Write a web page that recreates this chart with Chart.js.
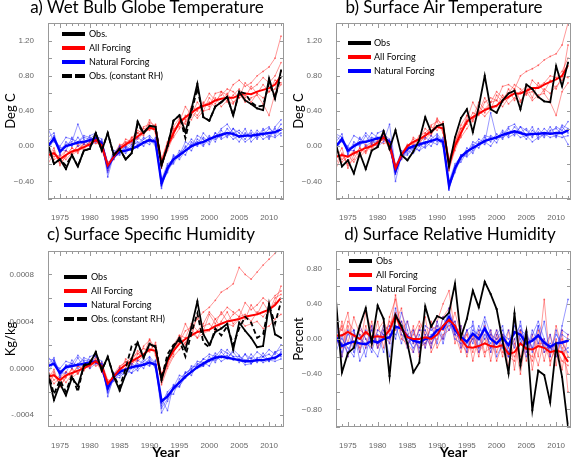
<!DOCTYPE html>
<html lang="en">
<head>
<meta charset="UTF-8">
<title>Obs vs model forcing</title>
<script src="https://cdn.jsdelivr.net/npm/chart.js"></script>
<style>
  body { margin: 0; background: #fff; width: 576px; height: 458px; overflow: hidden; position: relative; font-family: Lato, sans-serif; }
  canvas { position: absolute; }
  .ttl { position: absolute; font: 17px/17px Lato, sans-serif; color: #000; text-align: center; white-space: nowrap; z-index: 2; }
</style>
</head>
<body>
<canvas id="chartA" width="288" height="228" style="left:0;top:0"></canvas>
<canvas id="chartB" width="288" height="228" style="left:288px;top:0"></canvas>
<canvas id="chartC" width="288" height="230" style="left:0;top:228px"></canvas>
<canvas id="chartD" width="288" height="230" style="left:288px;top:228px"></canvas>
<div class="ttl" style="left:0;top:-2px;width:294px">a) Wet Bulb Globe Temperature</div>
<div class="ttl" style="left:300px;top:-2px;width:288px">b) Surface Air Temperature</div>
<div class="ttl" style="left:0;top:225px;width:302px">c) Surface Specific Humidity</div>
<div class="ttl" style="left:306px;top:225px;width:288px">d) Surface Relative Humidity</div>

<script>
// years on the x axis
var years = [1973,1974,1975,1976,1977,1978,1979,1980,1981,1982,1983,1984,1985,1986,1987,1988,1989,1990,1991,1992,
             1993,1994,1995,1996,1997,1998,1999,2000,2001,2002,2003,2004,2005,2006,2007,2008,2009,2010,2011,2012];
var xTickYears = [1975, 1980, 1985, 1990, 1995, 2000, 2005, 2010];

// a) wet bulb globe temperature (deg C)
var aObs   = [0.02,-0.2,-0.15,-0.26,-0.1,-0.23,-0.05,-0.03,0.15,-0.05,0.15,-0.1,-0.03,-0.15,-0.08,0.28,0.15,0.23,0.22,-0.22,0.0,0.29,0.35,0.16,0.42,0.71,0.33,0.29,0.45,0.5,0.56,0.35,0.62,0.52,0.48,0.43,0.41,0.77,0.54,0.86];
var aObsRH = [0.02,-0.2,-0.15,-0.22,-0.1,-0.23,-0.05,-0.03,0.15,-0.05,0.15,-0.1,-0.03,-0.15,-0.08,0.25,0.15,0.23,0.22,-0.22,0.0,0.29,0.35,0.09,0.38,0.66,0.33,0.29,0.45,0.5,0.56,0.35,0.62,0.6,0.5,0.45,0.46,0.72,0.55,0.8];
var aAll   = [-0.1,-0.08,-0.15,-0.1,-0.06,-0.04,-0.01,0.02,0.07,0.01,-0.22,-0.12,-0.03,0.02,0.06,0.11,0.16,0.21,0.19,-0.2,0.0,0.15,0.27,0.33,0.38,0.43,0.46,0.48,0.52,0.54,0.55,0.55,0.58,0.6,0.59,0.62,0.64,0.66,0.7,0.8];
var aNat   = [0.0,0.09,-0.06,0.0,0.02,0.04,0.05,0.07,0.09,0.03,-0.23,-0.12,-0.06,-0.05,-0.03,0.0,0.04,0.07,0.05,-0.42,-0.25,-0.15,-0.1,-0.05,0.0,0.03,0.05,0.08,0.11,0.13,0.15,0.14,0.11,0.12,0.12,0.13,0.14,0.15,0.16,0.19];
var aAllRuns = [
  [-0.15,-0.05,-0.2,-0.12,-0.02,-0.08,0.03,0.0,0.1,-0.02,-0.25,-0.1,0.02,0.0,0.1,0.15,0.12,0.27,0.23,-0.15,0.05,0.2,0.22,0.35,0.3,0.42,0.5,0.45,0.6,0.62,0.58,0.7,0.75,0.68,0.72,0.8,0.85,0.9,1.0,1.25],
  [-0.05,-0.12,-0.1,-0.15,-0.08,0.0,-0.05,0.06,0.05,0.05,-0.2,-0.15,0.0,0.05,0.02,0.15,0.2,0.18,0.25,-0.22,-0.05,0.12,0.3,0.25,0.4,0.35,0.45,0.5,0.45,0.5,0.6,0.5,0.55,0.58,0.5,0.6,0.55,0.62,0.65,0.85],
  [-0.2,-0.08,-0.18,-0.05,-0.1,-0.05,0.02,0.0,0.12,0.0,-0.28,-0.08,-0.05,0.08,0.05,0.1,0.22,0.25,0.15,-0.18,0.02,0.18,0.28,0.45,0.35,0.5,0.4,0.55,0.48,0.62,0.5,0.58,0.65,0.55,0.68,0.6,0.7,0.62,0.75,0.72],
  [-0.08,-0.15,-0.12,-0.05,-0.1,0.02,-0.02,0.05,0.03,0.04,-0.18,-0.14,-0.02,0.0,0.1,0.08,0.15,0.3,0.2,-0.25,0.0,0.1,0.2,0.28,0.38,0.32,0.4,0.42,0.55,0.45,0.52,0.48,0.6,0.5,0.55,0.58,0.48,0.35,0.6,0.7],
  [-0.12,-0.02,-0.22,-0.1,-0.02,-0.06,0.05,0.02,0.08,-0.04,-0.24,-0.12,0.0,0.04,0.08,0.18,0.14,0.2,0.24,-0.16,0.04,0.22,0.32,0.3,0.45,0.4,0.48,0.6,0.52,0.58,0.65,0.62,0.55,0.72,0.65,0.7,0.78,0.72,0.8,0.95]
];
var aNatRuns = [
  [0.2,0.05,0.0,0.1,0.08,0.05,0.12,0.1,0.08,0.06,-0.3,-0.08,0.0,-0.02,0.05,0.02,0.1,0.05,0.08,-0.45,-0.28,-0.18,-0.05,-0.1,0.05,0.0,0.1,0.05,0.15,0.1,0.2,0.12,0.05,0.15,0.1,0.18,0.12,0.2,0.15,0.25],
  [0.05,0.12,-0.1,0.05,0.0,0.1,0.02,0.12,0.15,0.0,-0.22,-0.15,-0.05,-0.08,0.0,0.05,0.0,0.1,0.02,-0.38,-0.2,-0.15,-0.12,0.0,-0.05,0.08,0.02,0.12,0.05,0.18,0.1,0.2,0.15,0.08,0.18,0.1,0.2,0.1,0.22,0.3],
  [-0.05,0.08,-0.05,-0.05,0.1,0.0,0.05,0.05,0.12,0.08,-0.35,-0.1,-0.1,-0.02,-0.05,0.0,0.08,0.12,0.05,-0.42,-0.3,-0.1,-0.15,-0.05,0.02,0.05,0.0,0.1,0.08,0.12,0.15,0.08,0.12,0.05,0.1,0.15,0.08,0.12,0.1,0.15],
  [0.1,0.15,-0.08,0.02,0.05,0.25,0.08,0.0,0.05,0.05,-0.25,-0.05,-0.08,0.0,-0.05,0.1,0.05,0.02,0.1,-0.48,-0.22,-0.2,-0.08,-0.02,0.08,0.02,0.15,0.08,0.1,0.2,0.25,0.15,0.18,0.12,0.15,0.08,0.18,0.22,0.12,0.2],
  [0.0,0.1,-0.02,0.0,0.02,0.05,0.1,0.08,0.15,0.02,-0.28,-0.12,0.0,-0.05,0.02,-0.02,0.05,0.08,0.0,-0.4,-0.25,-0.12,-0.1,0.05,0.0,0.12,0.08,0.02,0.15,0.08,0.12,0.2,0.1,0.2,0.05,0.12,0.15,0.08,0.2,0.12]
];

// b) surface air temperature (deg C)
var bObs = [0.02,-0.23,-0.16,-0.31,-0.08,-0.26,-0.05,-0.01,0.17,-0.03,0.18,-0.1,-0.16,-0.06,0.07,0.33,0.16,0.23,0.25,-0.23,0.1,0.32,0.42,0.16,0.45,0.8,0.42,0.38,0.52,0.6,0.63,0.42,0.7,0.65,0.56,0.51,0.5,0.91,0.68,0.95];
var bAll = [-0.12,-0.1,-0.12,-0.08,-0.05,-0.02,0.0,0.04,0.1,0.02,-0.25,-0.1,0.0,0.05,0.08,0.12,0.17,0.22,0.2,-0.2,0.0,0.15,0.28,0.33,0.37,0.41,0.44,0.46,0.52,0.56,0.6,0.6,0.63,0.66,0.66,0.7,0.73,0.76,0.8,0.92];
var bNat = [0.0,0.08,-0.05,0.0,0.04,0.05,0.07,0.09,0.1,0.05,-0.28,-0.1,-0.03,0.0,0.02,0.04,0.06,0.08,0.05,-0.45,-0.25,-0.12,-0.06,-0.02,0.02,0.06,0.08,0.1,0.13,0.15,0.17,0.15,0.13,0.14,0.14,0.15,0.14,0.15,0.15,0.18];
var bAllRuns = [
  [-0.25,-0.1,-0.22,-0.15,-0.02,-0.08,0.03,0.0,0.12,-0.02,-0.28,-0.08,0.02,0.02,0.12,0.15,0.12,0.3,0.24,-0.15,0.05,0.2,0.25,0.38,0.35,0.5,0.55,0.52,0.68,0.7,0.65,0.8,0.85,0.88,0.92,0.98,1.02,1.05,1.15,1.4],
  [-0.05,-0.15,-0.1,-0.18,-0.08,0.0,-0.05,0.08,0.06,0.06,-0.22,-0.15,0.0,0.08,0.02,0.15,0.22,0.18,0.28,-0.25,-0.05,0.12,0.35,0.28,0.45,0.38,0.5,0.52,0.45,0.55,0.65,0.52,0.6,0.62,0.55,0.65,0.6,0.68,0.75,1.15],
  [-0.2,-0.08,-0.2,-0.05,-0.12,-0.05,0.02,0.0,0.14,0.0,-0.3,-0.08,-0.05,0.1,0.05,0.1,0.24,0.28,0.15,-0.18,0.02,0.2,0.3,0.5,0.38,0.55,0.42,0.58,0.5,0.65,0.52,0.62,0.68,0.55,0.72,0.62,0.75,0.65,0.8,0.78],
  [-0.1,-0.18,-0.12,-0.05,-0.1,0.02,-0.02,0.06,0.03,0.05,-0.2,-0.14,-0.02,0.0,0.1,0.08,0.15,0.32,0.2,-0.28,0.0,0.1,0.2,0.3,0.4,0.34,0.42,0.45,0.58,0.48,0.55,0.5,0.62,0.52,0.58,0.6,0.5,0.35,0.62,0.72],
  [-0.14,-0.02,-0.25,-0.1,-0.02,-0.06,0.05,0.02,0.1,-0.04,-0.26,-0.12,0.0,0.04,0.08,0.2,0.14,0.22,0.26,-0.16,0.04,0.24,0.35,0.32,0.5,0.42,0.5,0.62,0.55,0.6,0.7,0.65,0.58,0.75,0.68,0.72,0.8,0.78,0.85,1.0]
];
var bNatRuns = [
  [0.12,0.05,0.0,0.12,0.08,0.05,0.15,0.1,0.08,0.05,-0.32,-0.08,0.0,-0.02,0.05,0.02,0.12,0.05,0.08,-0.48,-0.28,-0.15,-0.02,-0.08,0.05,0.02,0.12,0.08,0.18,0.12,0.22,0.15,0.08,0.18,0.12,0.2,0.14,0.22,0.18,0.28],
  [0.05,0.14,-0.1,0.05,0.0,0.12,0.02,0.15,0.18,0.0,-0.22,-0.15,-0.05,-0.08,0.0,0.05,0.0,0.12,0.02,-0.4,-0.2,-0.12,-0.1,0.02,-0.02,0.1,0.05,0.14,0.08,0.2,0.12,0.22,0.18,0.1,0.2,0.12,0.22,0.12,0.24,0.2],
  [-0.05,0.08,-0.05,-0.05,0.1,0.0,0.05,0.05,0.14,0.08,-0.4,-0.1,-0.1,-0.02,-0.05,0.0,0.08,0.14,0.05,-0.45,-0.3,-0.1,-0.12,-0.05,0.02,0.05,0.0,0.1,0.1,0.14,0.16,0.1,0.12,0.05,0.1,0.14,0.1,0.12,0.1,0.12],
  [0.14,0.1,-0.08,0.02,0.05,0.15,0.08,0.0,0.05,0.25,-0.25,-0.05,-0.08,0.0,-0.05,0.1,0.05,0.02,0.1,-0.5,-0.22,-0.18,-0.06,0.0,0.08,0.04,0.38,0.1,0.12,0.22,0.25,0.16,0.2,0.12,0.16,0.1,0.18,0.2,0.14,0.02],
  [0.0,0.1,-0.02,0.0,0.02,0.05,0.1,0.08,0.15,0.02,-0.3,-0.12,0.0,-0.05,0.02,-0.02,0.05,0.1,0.0,-0.42,-0.25,-0.1,-0.08,0.05,0.02,0.12,0.1,0.04,0.16,0.1,0.14,0.22,0.12,0.22,0.08,0.14,0.16,0.1,0.22,0.15]
];

// c) surface specific humidity, in units of 0.0001 kg/kg
var cObs   = [-0.5,-2.7,-1.3,-2.3,-0.8,-1.5,0.2,0.4,1.4,-0.2,1.0,-0.7,-1.9,-0.5,0.8,2.2,0.9,2.1,1.8,-1.0,0.8,1.8,2.6,1.6,3.5,5.7,2.9,2.0,3.1,3.4,3.8,1.6,3.9,3.2,2.6,1.8,1.9,5.5,2.9,2.6];
var cObsRH = [-0.3,-2.2,-1.0,-2.0,-0.6,-2.0,0.3,0.5,1.3,-0.1,0.9,-0.6,-1.6,0.0,1.9,2.1,1.0,2.0,1.9,-0.9,1.2,2.0,2.4,1.0,3.0,4.7,2.2,1.8,3.4,2.8,3.6,2.0,3.4,4.4,3.9,2.6,2.9,5.4,3.8,5.7];
var cAll   = [-0.7,-0.6,-1.0,-0.6,-0.4,-0.2,0.0,0.3,0.6,0.2,-1.3,-0.7,-0.1,0.3,0.6,0.9,1.2,1.6,1.5,-0.8,0.6,1.5,2.1,2.5,2.8,3.1,3.2,3.3,3.6,3.8,4.0,4.1,4.2,4.4,4.5,4.6,4.8,5.0,5.4,6.0];
var cNat   = [0.2,0.4,-0.4,0.1,0.2,0.3,0.4,0.5,0.6,0.2,-1.7,-0.7,-0.3,-0.1,0.1,0.2,0.3,0.5,0.3,-2.8,-2.4,-1.7,-1.2,-0.7,-0.3,0.1,0.4,0.7,0.9,1.0,0.9,0.8,0.7,0.6,0.6,0.7,0.7,0.8,0.9,1.2];
var cAllRuns = [
  [-1.2,-0.3,-1.5,-0.8,0.0,-0.5,0.3,0.2,0.8,-0.2,-1.5,-0.5,0.2,0.5,0.9,1.3,1.0,2.0,1.8,-0.5,0.8,1.8,2.3,3.2,3.5,4.2,4.8,5.2,5.8,6.5,6.8,7.2,8.6,8.0,7.6,8.2,8.8,9.3,9.8,10.3],
  [-0.2,-1.0,-0.6,-1.2,-0.5,0.2,-0.2,0.6,0.4,0.5,-1.0,-1.0,0.1,0.6,0.3,1.2,1.7,1.4,2.2,-1.2,0.2,1.2,2.8,2.0,3.4,2.6,3.6,3.8,3.2,4.0,4.8,3.8,4.4,4.6,4.0,4.8,4.4,5.0,5.6,7.0],
  [-1.4,-0.5,-1.3,-0.3,-0.8,-0.4,0.2,0.0,1.0,0.0,-1.6,-0.5,-0.4,0.8,0.4,0.7,1.9,2.4,1.1,-0.9,0.4,1.7,2.4,3.8,2.8,4.5,3.2,4.6,3.8,4.8,4.0,4.6,5.0,4.2,5.4,4.6,5.6,4.8,6.0,6.3],
  [-0.6,-1.3,-0.8,-0.3,-0.7,0.2,-0.1,0.5,0.2,0.4,-1.2,-0.9,-0.1,0.0,0.8,0.6,1.1,2.5,1.6,-1.4,0.0,1.0,1.6,2.2,3.0,2.6,3.0,3.2,4.2,3.4,3.8,3.6,4.2,3.6,3.8,4.0,3.4,3.6,4.2,4.6],
  [-0.9,-0.1,-1.6,-0.7,-0.1,-0.4,0.4,0.1,0.6,-0.3,-1.4,-0.8,0.0,0.3,0.6,1.5,1.1,1.6,2.0,-0.7,0.5,2.0,2.8,2.6,3.8,3.2,3.8,4.8,4.2,4.6,5.2,4.8,4.4,5.6,5.0,5.4,6.0,5.6,6.2,6.6]
];
var cNatRuns = [
  [1.0,0.3,0.0,0.6,0.4,0.3,0.9,0.7,0.5,0.4,-2.0,-0.5,0.0,-0.2,0.4,0.1,0.8,0.3,0.6,-3.4,-2.6,-1.6,-0.6,-0.8,0.2,0.1,0.8,0.6,1.3,0.9,1.6,1.0,0.5,1.2,0.8,1.4,1.0,1.6,1.2,2.0],
  [0.3,0.9,-0.8,0.3,0.0,0.9,0.1,1.0,1.2,0.0,-1.5,-1.1,-0.4,-0.6,0.0,0.4,0.0,0.9,0.1,-3.0,-2.0,-1.5,-1.3,-0.3,-0.6,0.4,0.2,1.0,0.5,1.4,0.8,1.6,1.1,0.5,1.2,0.6,1.3,0.6,1.4,1.6],
  [-0.4,0.6,-0.4,-0.4,0.7,0.0,0.4,0.4,1.0,0.6,-2.4,-0.7,-0.8,-0.2,-0.4,0.0,0.6,1.0,0.4,-3.8,-2.8,-1.8,-1.5,-0.8,-0.2,0.0,0.2,0.6,0.7,1.0,1.1,0.7,0.8,0.3,0.4,0.8,0.5,0.7,0.6,0.8],
  [0.8,0.7,-0.6,0.2,0.4,1.1,0.6,0.0,0.4,0.4,-1.8,-0.4,-0.6,0.0,-0.4,0.7,0.4,0.2,0.7,-3.2,-2.2,-2.2,-0.9,-0.4,0.0,0.3,0.8,1.2,1.0,1.6,1.3,1.0,1.0,0.7,0.9,0.5,1.0,1.2,0.8,1.4],
  [0.0,0.7,-0.2,0.0,0.2,0.4,0.7,0.6,1.1,0.2,-2.1,-0.9,0.0,-0.4,0.2,-0.2,0.4,0.7,0.0,-2.6,-3.6,-1.4,-1.6,-0.4,-0.1,0.6,0.5,0.2,1.1,0.6,0.9,1.4,0.7,1.2,0.4,0.9,1.0,0.6,1.4,1.0]
];

// d) surface relative humidity (percent)
var dObs = [0.44,-0.38,-0.16,-0.1,0.15,0.35,-0.05,0.38,0.23,-0.42,0.27,0.15,-0.05,-0.38,-0.27,0.37,0.14,0.26,0.23,0.3,0.63,0.02,0.23,0.55,0.36,0.65,0.51,0.34,-0.02,-0.39,0.29,-0.3,0.08,-0.81,-0.36,-0.41,-0.72,-0.08,-0.43,-1.0];
var dAll = [0.04,0.04,0.08,0.04,0.0,0.08,0.02,0.03,0.02,0.1,0.27,0.12,0.02,0.0,0.0,0.02,0.0,0.05,0.15,0.22,0.15,0.0,-0.09,-0.1,-0.08,-0.05,-0.08,-0.09,-0.07,-0.17,-0.15,-0.05,-0.11,-0.12,-0.08,-0.1,-0.15,-0.13,-0.15,-0.26];
var dNat = [0.02,-0.08,-0.05,-0.03,-0.05,-0.06,-0.02,-0.04,0.0,0.02,0.14,0.12,0.03,-0.02,-0.04,0.0,0.02,0.1,0.12,0.25,0.1,0.02,-0.03,0.06,0.0,0.12,0.0,-0.05,0.02,-0.07,0.08,0.05,-0.05,-0.02,0.04,-0.04,-0.09,-0.05,-0.04,-0.02];
var dAllRuns = [
  [0.3,-0.1,0.2,0.1,-0.15,0.15,-0.05,0.2,-0.1,0.25,0.45,0.05,-0.1,0.15,-0.2,0.1,-0.05,0.2,0.4,0.55,0.05,-0.15,0.1,-0.25,0.05,-0.2,0.1,-0.15,0.05,-0.3,-0.05,-0.2,0.1,-0.35,0.05,-0.25,0.05,-0.3,0.1,-0.6],
  [-0.1,0.2,-0.05,0.25,0.05,-0.1,0.2,-0.05,0.15,-0.05,0.2,0.35,-0.05,-0.15,0.15,-0.1,0.2,-0.1,0.05,0.1,0.3,0.05,-0.2,0.05,-0.2,0.15,-0.25,0.05,-0.2,0.1,-0.35,0.1,-0.25,0.05,-0.2,0.45,-0.3,0.0,-0.35,0.05],
  [0.15,0.1,0.3,-0.1,0.15,0.0,-0.1,0.1,0.2,0.05,0.5,0.1,0.2,-0.05,0.1,0.25,-0.15,0.0,0.25,0.35,-0.05,0.15,-0.1,0.0,-0.15,-0.05,0.05,-0.25,-0.05,-0.15,0.0,-0.4,0.05,-0.1,-0.3,0.0,-0.2,0.15,-0.1,-0.4],
  [-0.05,0.15,-0.2,0.05,-0.1,0.3,0.1,-0.1,0.0,0.2,0.1,0.2,0.05,0.1,-0.1,-0.05,0.15,0.1,0.0,0.25,0.15,-0.1,0.05,-0.15,0.1,-0.15,-0.1,0.1,-0.15,-0.2,-0.25,0.1,-0.15,-0.2,0.1,-0.15,-0.1,-0.2,0.0,-0.2],
  [0.1,-0.2,0.15,-0.05,0.1,0.05,0.15,-0.1,0.1,0.15,0.3,0.0,-0.05,0.05,0.2,0.05,-0.1,0.15,0.1,0.15,0.2,-0.05,-0.15,0.05,-0.1,0.0,-0.15,0.0,0.05,-0.1,-0.2,-0.05,-0.1,-0.25,-0.05,-0.05,-0.25,-0.1,-0.25,-0.3]
];
var dNatRuns = [
  [0.25,-0.2,0.1,-0.15,0.05,-0.2,0.15,-0.1,0.1,-0.2,0.25,0.15,-0.1,0.1,-0.15,0.05,-0.1,0.2,0.0,0.35,0.05,0.15,-0.15,0.2,-0.1,0.2,-0.15,0.05,0.15,-0.2,0.2,-0.05,0.1,-0.15,0.15,-0.1,0.05,-0.2,0.15,0.45],
  [-0.15,0.05,-0.2,0.1,-0.15,0.1,-0.05,0.05,-0.15,0.15,0.0,0.3,0.1,-0.15,0.05,-0.1,0.15,-0.05,0.25,0.1,0.2,-0.1,0.1,-0.05,0.15,0.0,0.1,-0.2,-0.05,0.1,-0.1,0.2,-0.15,0.1,-0.05,0.2,-0.2,0.1,-0.15,-0.1],
  [0.1,0.0,-0.1,-0.2,0.15,0.0,-0.15,0.1,0.05,0.0,0.15,-0.05,0.2,-0.05,0.1,0.1,-0.05,0.05,0.15,0.3,0.15,0.05,-0.05,0.1,0.05,0.25,0.05,0.0,0.1,-0.15,0.0,0.1,0.05,-0.1,0.15,-0.15,-0.05,-0.1,0.1,0.05],
  [0.0,-0.15,0.05,0.1,-0.25,-0.1,0.1,-0.05,0.15,0.1,0.05,0.2,-0.05,0.0,-0.1,0.15,0.1,0.15,-0.05,0.2,0.0,-0.05,0.1,0.15,-0.15,0.05,-0.05,0.1,-0.1,-0.2,0.15,0.0,-0.2,0.05,0.2,0.0,-0.15,0.05,-0.05,-0.15],
  [0.05,-0.05,-0.15,0.05,0.0,-0.05,-0.1,-0.2,0.05,-0.05,0.35,0.05,0.0,-0.1,0.0,-0.05,0.05,0.1,0.15,0.2,0.05,0.0,-0.1,0.0,0.1,0.1,-0.1,-0.05,0.05,0.0,0.05,0.15,-0.1,0.0,0.05,-0.1,-0.1,-0.15,0.05,0.0]
];

// y tick values shown with labels
var tempTicks = [-0.4, 0, 0.4, 0.8, 1.2];
var humTicks = [-4, 0, 4, 8];
var humTickLabels = ['-.0004', '0.0000', '0.0004', '0.0008'];
var rhTicks = [-0.8, -0.4, 0, 0.4, 0.8];

function pts(vals) {
    return years.map(function (yr, i) { return { x: yr, y: vals[i] }; });
}

function signed(v) {
    return (v < 0 ? '\u2212' : '') + Math.abs(v).toFixed(2);
}

// box round the plot with small ticks pointing in, on all four sides
var frameTicks = {
    id: 'frameTicks',
    afterDraw: function (chart, args, opts) {
        var ctx = chart.ctx, ca = chart.chartArea;
        var x = chart.scales.x, y = chart.scales.y;
        ctx.save();
        ctx.strokeStyle = '#999';
        ctx.lineWidth = 1;
        ctx.strokeRect(ca.left + 0.5, ca.top + 0.5, ca.right - ca.left - 1, ca.bottom - ca.top - 1);
        ctx.beginPath();
        years.forEach(function (yr) {
            var px = Math.round(x.getPixelForValue(yr)) + 0.5;
            var len = yr % 5 === 0 ? 5 : 3;
            ctx.moveTo(px, ca.bottom); ctx.lineTo(px, ca.bottom - len);
            ctx.moveTo(px, ca.top); ctx.lineTo(px, ca.top + len);
        });
        for (var k = Math.ceil(y.min / opts.step - 1e-6); k * opts.step <= y.max + 1e-6; k++) {
            var py = Math.round(y.getPixelForValue(k * opts.step)) + 0.5;
            ctx.moveTo(ca.left, py); ctx.lineTo(ca.left + 4, py);
            ctx.moveTo(ca.right, py); ctx.lineTo(ca.right - 4, py);
        }
        ctx.stroke();
        ctx.restore();
    }
};

// legend drawn inside the plot, top left
var insideLegend = {
    id: 'insideLegend',
    afterDraw: function (chart, args, opts) {
        var ctx = chart.ctx, ca = chart.chartArea;
        var items = chart.data.datasets.filter(function (d) { return d.legendRow !== undefined; })
            .sort(function (p, q) { return p.legendRow - q.legendRow; });
        ctx.save();
        ctx.font = '9px Lato';
        ctx.textAlign = 'left';
        ctx.textBaseline = 'middle';
        items.forEach(function (d, i) {
            var yy = ca.top + opts.top + i * 14;
            var xx = ca.left + opts.left;
            ctx.strokeStyle = d.borderColor;
            ctx.lineWidth = 4;
            ctx.setLineDash(d.borderDash ? [10, 3] : []);
            ctx.beginPath();
            ctx.moveTo(xx, yy);
            ctx.lineTo(xx + 23, yy);
            ctx.stroke();
            ctx.setLineDash([]);
            ctx.fillStyle = '#000';
            ctx.fillText(d.label, xx + opts.text, yy);
        });
        ctx.restore();
    }
};

function line(vals, color, width, extra) {
    var ds = {
        data: pts(vals),
        borderColor: color,
        backgroundColor: color,
        borderWidth: width,
        pointRadius: 0,
        pointBorderWidth: 0,
        tension: 0
    };
    return Object.assign(ds, extra || {});
}

function makePanel(id, p) {
    var datasets = [line(p.obs, '#000', 1.8, { label: p.obsLabel, legendRow: 0, pointStyle: 'rect', pointRadius: 1.3 })];
    if (p.obsRH) {
        datasets.push(line(p.obsRH, '#000', 1.8, { label: 'Obs. (constant RH)', legendRow: 3, borderDash: [5, 3] }));
    }
    datasets.push(line(p.all, '#ff0000', 2, { label: 'All Forcing', legendRow: 1 }));
    datasets.push(line(p.nat, '#0000ff', 2.4, { label: 'Natural Forcing', legendRow: 2, pointRadius: 1 }));
    p.natRuns.forEach(function (r) {
        datasets.push(line(r, 'rgba(40,40,255,0.6)', 0.8, { pointRadius: 0.9 }));
    });
    p.allRuns.forEach(function (r) {
        datasets.push(line(r, 'rgba(255,40,40,0.6)', 0.8, { pointRadius: 0.9 }));
    });

    new Chart(document.getElementById(id), {
        type: 'line',
        data: { datasets: datasets },
        options: {
            responsive: false,
            animation: false,
            layout: { padding: { top: 23, right: p.right, left: 0, bottom: 0 } },
            plugins: {
                legend: { display: false },
                tooltip: { enabled: false },
                insideLegend: p.legend,
                frameTicks: { step: p.step }
            },
            scales: {
                x: {
                    type: 'linear',
                    min: 1973,
                    max: 2012.5,
                    grid: { display: false },
                    border: { display: false },
                    afterBuildTicks: function (s) { s.ticks = xTickYears.map(function (v) { return { value: v }; }); },
                    afterFit: function (s) { s.height = p.xHeight; },
                    ticks: {
                        color: '#666',
                        font: { family: 'Liberation Sans', size: 8 },
                        padding: 6,
                        maxRotation: 0,
                        autoSkip: false,
                        callback: function (v) { return String(v); }
                    },
                    title: {
                        display: p.showYear,
                        text: 'Year',
                        color: '#000',
                        font: { family: 'Lato', size: 14, weight: 'bold' },
                        padding: { top: 0, bottom: -3 }
                    }
                },
                y: {
                    min: p.yMin,
                    max: p.yMax,
                    grid: { display: false },
                    border: { display: false },
                    afterBuildTicks: function (s) { s.ticks = p.yTicks.map(function (v) { return { value: v }; }); },
                    afterFit: function (s) { s.width = 48; },
                    ticks: {
                        color: '#666',
                        font: { family: 'Liberation Sans', size: 8 },
                        padding: 6,
                        callback: p.yLabel
                    },
                    title: {
                        display: true,
                        text: p.unit,
                        color: '#000',
                        font: { family: 'Lato', size: 13 },
                        padding: { top: 3, bottom: 0 }
                    }
                }
            }
        },
        plugins: [frameTicks, insideLegend]
    });
}

makePanel('chartA', {
    obs: aObs, obsRH: aObsRH, all: aAll, nat: aNat, allRuns: aAllRuns, natRuns: aNatRuns,
    obsLabel: 'Obs.', unit: 'Deg C', yMin: -0.6, yMax: 1.4, step: 0.2, yTicks: tempTicks,
    yLabel: signed, right: 1, xHeight: 29, showYear: false,
    legend: { left: 14, top: 11, text: 27 }
});
makePanel('chartB', {
    obs: bObs, all: bAll, nat: bNat, allRuns: bAllRuns, natRuns: bNatRuns,
    obsLabel: 'Obs', unit: 'Deg C', yMin: -0.6, yMax: 1.4, step: 0.2, yTicks: tempTicks,
    yLabel: signed, right: 5, xHeight: 29, showYear: false,
    legend: { left: 12, top: 20, text: 26 }
});
makePanel('chartC', {
    obs: cObs, obsRH: cObsRH, all: cAll, nat: cNat, allRuns: cAllRuns, natRuns: cNatRuns,
    obsLabel: 'Obs', unit: 'Kg/kg', yMin: -5, yMax: 10, step: 2, yTicks: humTicks,
    yLabel: function (v) { return humTickLabels[humTicks.indexOf(v)]; },
    right: 1, xHeight: 31, showYear: true,
    legend: { left: 16, top: 26, text: 27 }
});
makePanel('chartD', {
    obs: dObs, all: dAll, nat: dNat, allRuns: dAllRuns, natRuns: dNatRuns,
    obsLabel: 'Obs', unit: 'Percent', yMin: -1, yMax: 1, step: 0.2, yTicks: rhTicks,
    yLabel: signed, right: 5, xHeight: 31, showYear: true,
    legend: { left: 13, top: 10, text: 27 }
});
</script>
</body>
</html>
